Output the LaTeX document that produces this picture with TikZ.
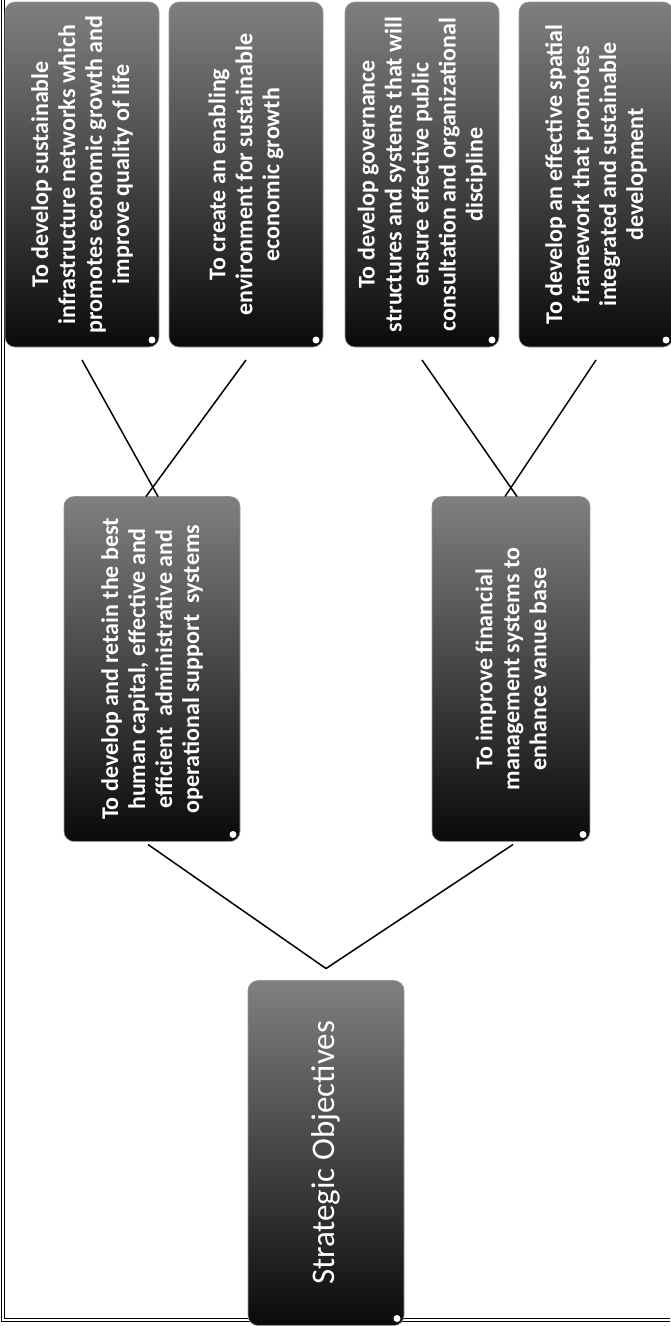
\documentclass[tikz,border=0pt]{standalone}
\usepackage{fontspec}
\setmainfont{Carlito}
\usetikzlibrary{calc}

\begin{document}
\begin{tikzpicture}[x=1pt, y=-1pt,
  link/.style={line width=1.5pt},
  objbox/.style={rotate=90, rounded corners=10pt, draw=black!40, line width=0.6pt,
                 top color=black!50, middle color=black!80, bottom color=black!96,
                 text=white, align=center, inner sep=0pt, outer sep=0pt,
                 minimum width=345pt, minimum height=154pt,
                 font=\fontsize{24}{27}\selectfont\bfseries},
  font=\normalsize]
  \useasboundingbox (0,0) rectangle (670,1326);
  % frame
  \draw[double, double distance=1.6pt, line width=0.8pt] (3,0) -- (3,1320) -- (670,1320);
  % top row
  \node[objbox] (infra) at (82,174.5) {To develop sustainable\\infrastructure networks which\\promotes economic growth and\\improve quality of life};
  \node[objbox] (econ) at (246,174.5) {To create an enabling\\environment for sustainable\\economic growth};
  \node[objbox] (gov) at (422,174.5) {To develop governance\\structures and systems that will\\ensure effective public\\consultation and organizational\\discipline};
  \node[objbox] (spatial) at (596,174.5) {To develop an effective spatial\\framework that promotes\\integrated and sustainable\\development};
  % middle row
  \node[objbox, minimum height=176pt] (human) at (152,669) {To develop and retain the best\\human capital, effective and\\efficient~ administrative and\\operational support~ systems};
  \node[objbox, minimum height=158pt] (finance) at (511,669) {To improve financial\\management systems to\\enhance vanue base};
  % root
  \node[objbox, minimum height=156pt, font=\fontsize{33}{38}\selectfont] (root) at (326,1153) {Strategic Objectives};
  % gloss dots
  \foreach \n in {infra,econ,gov,spatial,human,finance,root}
    \fill[white] ($(\n.south west)+(-7,-7)$) circle (3.5pt);
  % links
  \draw[link] ($(infra.west)+(0,13)$) -- ($(human.east)+(6,0)$);
  \draw[link] ($(econ.west)+(0,13)$) -- ($(human.east)+(-6,0)$);
  \draw[link] ($(gov.west)+(0,13)$) -- ($(finance.east)+(6,0)$);
  \draw[link] ($(spatial.west)+(0,13)$) -- ($(finance.east)+(-6,0)$);
  \draw[link] ($(human.west)+(-4,3)$) -- ($(root.east)+(0,-12)$);
  \draw[link] ($(finance.west)+(2,3)$) -- ($(root.east)+(0,-12)$);
\end{tikzpicture}
\end{document}
